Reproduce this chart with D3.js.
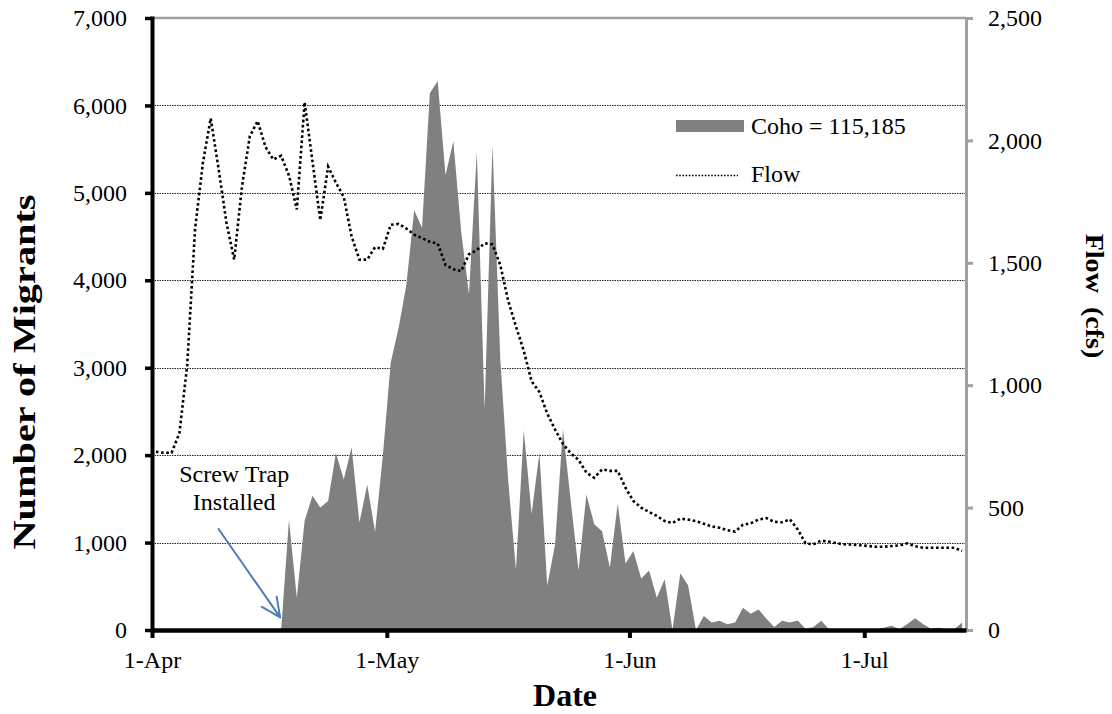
<!DOCTYPE html>
<html>
<head>
<meta charset="utf-8">
<script src="https://cdn.jsdelivr.net/npm/d3@7"></script>
<style>
  body { margin: 0; background: #fff; }
  svg { display: block; }
  text { font-family: "Liberation Serif", "Times New Roman", serif; fill: #000; }
</style>
</head>
<body>
<svg id="chart" width="1112" height="714"></svg>
<script>
// ---- data -------------------------------------------------------------
const seasonStart = new Date(2012, 3, 1);   // 1-Apr
const seasonDays = 104;                     // 1-Apr .. 13-Jul

// Daily mean flow (cfs), one value per day from 1-Apr
const flow = [
  728, 724, 724, 804, 1082, 1637, 1908, 2090, 1886, 1666,
  1513, 1813, 2017, 2079, 1973, 1922, 1937, 1857, 1718, 2156,
  1915, 1674, 1893, 1827, 1769, 1608, 1513, 1513, 1564, 1557,
  1655, 1659, 1640, 1615, 1601, 1586, 1579, 1491, 1474, 1466,
  1535, 1552, 1580, 1575, 1491, 1345, 1240, 1140, 1016, 972,
  884, 819, 760, 722, 695, 643, 622, 656, 650, 650,
  581, 527, 500, 482, 466, 445, 437, 455, 451, 445,
  434, 423, 418, 408, 402, 430, 436, 451, 457, 442,
  440, 452, 411, 354, 350, 365, 361, 354, 350, 349,
  346, 343, 340, 340, 343, 346, 354, 342, 336, 336,
  336, 336, 336, 323
];

// Daily coho migrants; null until the screw trap went in (17-Apr)
const coho = [
  null, null, null, null, null, null, null, null, null, null,
  null, null, null, null, null, null, 0, 1260, 370, 1250,
  1535, 1400, 1475, 2025, 1720, 2090, 1230, 1660, 1125, 2000,
  3060, 3450, 3950, 4800, 4600, 6140, 6280, 5200, 5590, 4560,
  3840, 5470, 2520, 5550, 3100, 1720, 690, 2285, 1330, 2025,
  510, 980, 2295, 1475, 680, 1550, 1210, 1130, 715, 1445,
  760, 905, 590, 680, 370, 580, 0, 650, 510, 0,
  160, 85, 105, 65, 85, 255, 185, 235, 130, 35,
  105, 85, 110, 15, 35, 105, 10, 0, 0, 0,
  0, 0, 5, 25, 50, 10, 70, 135, 70, 15,
  25, 5, 10, 85
];

const cohoTotalLabel = "Coho = 115,185";
const flowLabel = "Flow";
const migrantTicks = [0, 1000, 2000, 3000, 4000, 5000, 6000, 7000];
const flowTicks = [0, 500, 1000, 1500, 2000, 2500];
const dateTicks = [new Date(2012, 3, 1), new Date(2012, 4, 1), new Date(2012, 5, 1), new Date(2012, 6, 1)];

// ---- layout -----------------------------------------------------------
const svg = d3.select("#chart");
const plot = { left: 152, right: 966, top: 18, bottom: 630 };
const FONT = "'Liberation Serif','Times New Roman',serif";

const dayMid = i => d3.timeHour.offset(d3.timeDay.offset(seasonStart, i), 12);

const x = d3.scaleTime()
  .domain([seasonStart, d3.timeDay.offset(seasonStart, seasonDays)])
  .range([plot.left, plot.right]);
const yL = d3.scaleLinear().domain([0, 7000]).range([plot.bottom, plot.top]);
const yR = d3.scaleLinear().domain([0, 2500]).range([plot.bottom, plot.top]);

// horizontal gridlines
svg.append("g")
  .selectAll("line")
  .data(migrantTicks.filter(v => v > 0 && v < 7000))
  .join("line")
  .attr("x1", plot.left).attr("x2", plot.right)
  .attr("y1", d => Math.round(yL(d)) + 0.5).attr("y2", d => Math.round(yL(d)) + 0.5)
  .attr("stroke", "#222").attr("stroke-width", 1)
  .attr("stroke-dasharray", "1.5,1");

// coho migrants area
const area = d3.area()
  .defined(d => d != null)
  .x((d, i) => x(dayMid(i)))
  .y0(yL(0))
  .y1(d => yL(d));
svg.append("path")
  .datum(coho)
  .attr("d", area)
  .attr("fill", "#808080");

// top border
svg.append("line")
  .attr("x1", plot.left).attr("x2", plot.right)
  .attr("y1", plot.top).attr("y2", plot.top)
  .attr("stroke", "#a0a0a0").attr("stroke-width", 2.5);

// flow line
const flowLine = d3.line()
  .x((d, i) => x(dayMid(i)))
  .y(d => yR(d));
svg.append("path")
  .datum(flow)
  .attr("d", flowLine)
  .attr("fill", "none")
  .attr("stroke", "#000")
  .attr("stroke-width", 2.6)
  .attr("stroke-dasharray", "2.6,2.6");

// right axis (flow)
const gR = svg.append("g")
  .attr("transform", `translate(${plot.right},0)`)
  .call(d3.axisRight(yR).tickValues(flowTicks).tickFormat(d3.format(","))
    .tickSize(7).tickSizeOuter(0).tickPadding(15));
gR.attr("font-family", FONT).attr("font-size", 24);
gR.select(".domain").attr("stroke", "#a0a0a0").attr("stroke-width", 3);
gR.selectAll(".tick line").attr("stroke", "#a0a0a0").attr("stroke-width", 3);
gR.selectAll(".tick text").attr("fill", "#000");

// bottom axis (date)
const gB = svg.append("g")
  .attr("transform", `translate(0,${plot.bottom})`)
  .call(d3.axisBottom(x).tickValues(dateTicks).tickFormat(d3.timeFormat("%-d-%b"))
    .tickSize(8).tickSizeOuter(0).tickPadding(13));
gB.attr("font-family", FONT).attr("font-size", 24);
gB.select(".domain").attr("stroke", "#000").attr("stroke-width", 4.5);
gB.selectAll(".tick line").attr("stroke", "#000").attr("stroke-width", 4);

// left axis (migrants)
const gL = svg.append("g")
  .attr("transform", `translate(${plot.left},0)`)
  .call(d3.axisLeft(yL).tickValues(migrantTicks).tickFormat(d3.format(","))
    .tickSize(7).tickSizeOuter(0).tickPadding(18));
gL.attr("font-family", FONT).attr("font-size", 24);
gL.select(".domain").attr("stroke", "#000").attr("stroke-width", 4).attr("stroke-linecap", "square");
gL.selectAll(".tick line").attr("stroke", "#000").attr("stroke-width", 3.5);

// axis titles
svg.append("text")
  .attr("x", 565).attr("y", 706)
  .attr("text-anchor", "middle")
  .attr("font-size", 32).attr("font-weight", "bold")
  .text("Date");

svg.append("text")
  .attr("transform", "translate(35,372) rotate(-90) scale(1.3,1)")
  .attr("text-anchor", "middle")
  .attr("font-size", 31).attr("font-weight", "bold")
  .text("Number of Migrants");

svg.append("text")
  .attr("transform", "translate(1086,296) rotate(90) scale(1.08,1)")
  .attr("text-anchor", "middle")
  .attr("font-size", 26).attr("font-weight", "bold")
  .attr("xml:space", "preserve")
  .style("white-space", "pre")
  .text("Flow  (cfs)");

// legend
const lg = svg.append("g").attr("transform", "translate(676,0)");
lg.append("rect").attr("x", 0).attr("y", 120).attr("width", 68).attr("height", 12).attr("fill", "#808080");
lg.append("text").attr("x", 75).attr("y", 134).attr("font-size", 24).text(cohoTotalLabel);
lg.append("line").attr("x1", 0).attr("x2", 62).attr("y1", 175.5).attr("y2", 175.5)
  .attr("stroke", "#000").attr("stroke-width", 1.6).attr("stroke-dasharray", "1.6,1.6");
lg.append("text").attr("x", 75).attr("y", 182).attr("font-size", 24).text(flowLabel);

// screw trap annotation
const firstTrapDay = coho.findIndex(v => v != null);
const tip = [x(dayMid(firstTrapDay)) - 1, yL(145)];
const tail = [x(dayMid(8)), yL(1155)];
const ang = Math.atan2(tip[1] - tail[1], tip[0] - tail[0]);
const head = 21, spread = 0.44;
const arm = s => [tip[0] - head * Math.cos(ang + s), tip[1] - head * Math.sin(ang + s)];
const a1 = arm(spread), a2 = arm(-spread);
svg.append("path")
  .attr("d", `M${tail[0]},${tail[1]}L${tip[0]},${tip[1]}M${a1[0]},${a1[1]}L${tip[0]},${tip[1]}L${a2[0]},${a2[1]}`)
  .attr("fill", "none")
  .attr("stroke", "#4a7ebb").attr("stroke-width", 2)
  .attr("stroke-linecap", "round").attr("stroke-linejoin", "round");

const note = svg.append("text")
  .attr("text-anchor", "middle")
  .attr("font-size", 24);
note.append("tspan").attr("x", x(dayMid(10.1))).attr("y", 482).text("Screw Trap");
note.append("tspan").attr("x", x(dayMid(10.1))).attr("y", 510).text("Installed");
</script>
</body>
</html>
